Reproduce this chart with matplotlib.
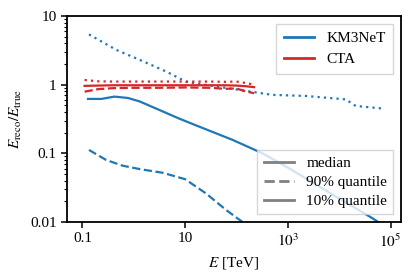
import matplotlib
matplotlib.use("Agg")
import matplotlib.pyplot as plt
from matplotlib.lines import Line2D
from matplotlib.ticker import FixedLocator, FixedFormatter, NullLocator, LogLocator

plt.rcParams['font.family'] = 'serif'
plt.rcParams['font.serif'] = ['Liberation Serif', 'DejaVu Serif']
plt.rcParams['mathtext.fontset'] = 'stix'
plt.rcParams['font.size'] = 11

# KM3NeT
km_med_E = [0.128, 0.234, 0.42, 0.77, 1.3, 2.7, 7.7, 16.4, 30, 84, 321, 1000, 10000, 44000, 80000]
km_med_y = [0.62, 0.62, 0.67, 0.64, 0.57, 0.45, 0.32, 0.255, 0.213, 0.157, 0.10, 0.062, 0.022, 0.0114, 0.0085]
km_q90_E = [0.134, 0.29, 0.61, 1.3, 3.7, 10, 25.6, 62.5, 131, 200]
km_q90_y = [0.112, 0.080, 0.066, 0.059, 0.052, 0.042, 0.026, 0.015, 0.010, 0.0075]
km_q10_E = [0.134, 0.46, 1.3, 4.3, 10.5, 34, 113, 500, 2230, 13400, 21000, 68700]
km_q10_y = [5.4, 3.2, 2.3, 1.55, 1.1, 0.96, 0.84, 0.71, 0.685, 0.61, 0.49, 0.45]

# CTA
cta_E = [0.11, 0.2, 0.4, 1.0, 3.0, 10, 30, 60, 100, 150, 220]
cta_med_y = [0.96, 0.97, 0.98, 0.98, 0.98, 0.98, 0.98, 0.98, 0.97, 0.95, 0.92]
cta_q90_y = [0.79, 0.86, 0.89, 0.90, 0.90, 0.91, 0.90, 0.87, 0.88, 0.80, 0.75]
cta_q10_y = [1.17, 1.12, 1.11, 1.11, 1.11, 1.11, 1.11, 1.10, 1.11, 1.06, 1.00]

xticks = [0.1, 10, 1e3, 1e5]
xticklabels = ['0.1', '10', r'$10^3$', r'$10^5$']
yticks = [0.01, 0.1, 1, 10]
yticklabels = ['0.01', '0.1', '1', '10']

blue = '#1f77b4'
red = '#d62728'
gray = '#808080'

fig = plt.figure(figsize=(4.12, 2.77), dpi=100)
ax = fig.add_axes([67/412, 1-222/277, (401-67)/412, (222-16)/277])
lw = 1.6
dashed = (0, (3.7, 1.6))
dotted = (0, (1, 1.85))
ax.plot(km_med_E, km_med_y, color=blue, lw=lw, ls='-')
ax.plot(km_q90_E, km_q90_y, color=blue, lw=lw, ls=dashed)
ax.plot(km_q10_E, km_q10_y, color=blue, lw=lw, ls=dotted)
ax.plot(cta_E, cta_med_y, color=red, lw=lw, ls='-')
ax.plot(cta_E, cta_q90_y, color=red, lw=lw, ls=dashed)
ax.plot(cta_E, cta_q10_y, color=red, lw=lw, ls=dotted)

ax.set_xscale('log')
ax.set_yscale('log')
ax.set_xlim(0.05, 1.6e5)
ax.set_ylim(0.01, 10)
ax.xaxis.set_major_locator(FixedLocator(xticks))
ax.xaxis.set_major_formatter(FixedFormatter(xticklabels))
ax.xaxis.set_minor_locator(NullLocator())
ax.yaxis.set_major_locator(FixedLocator(yticks))
ax.yaxis.set_major_formatter(FixedFormatter(yticklabels))
ax.yaxis.set_minor_locator(LogLocator(base=10, subs=range(2, 10)))
ax.yaxis.set_minor_formatter(FixedFormatter([]))
for s in ax.spines.values():
    s.set_linewidth(1.3)
ax.tick_params(which='major', length=4, width=1.1, labelsize=11)
ax.tick_params(which='minor', length=2.5, width=0.8)

ax.set_xlabel(r'$E$ [TeV]', fontsize=11)
ax.set_ylabel(r'$E_\mathrm{reco}/E_\mathrm{true}$', fontsize=11)

h1 = [Line2D([], [], color=blue, lw=2), Line2D([], [], color=red, lw=2)]
leg1 = ax.legend(h1, ['KM3NeT', 'CTA'], loc='upper right', fancybox=False,
                 edgecolor='#cccccc', handlelength=2.0, borderpad=0.5, fontsize=11)
ax.add_artist(leg1)
h2 = [Line2D([], [], color=gray, lw=2, ls='-'),
      Line2D([], [], color=gray, lw=2, ls=dashed),
      Line2D([], [], color=gray, lw=2, ls='-')]
ax.legend(h2, ['median', '90% quantile', '10% quantile'], loc='lower right',
          fancybox=False, edgecolor='#cccccc', handlelength=2.0, borderpad=0.4,
          labelspacing=0.35, fontsize=11)

fig.savefig('out.png', dpi=100)
